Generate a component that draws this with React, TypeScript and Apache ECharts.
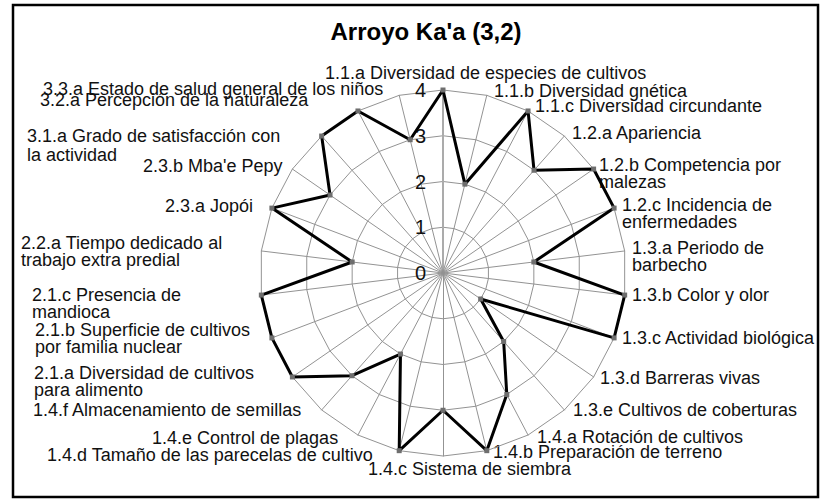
import React, { useEffect, useRef } from "react";
import * as echarts from "echarts";

const TITLE = "Arroyo Ka'a (3,2)";

// Indicators, clockwise from the top
const indicatorNames: string[] = [
  "1.1.a Diversidad de especies de cultivos",
  "1.1.b Diversidad gnética",
  "1.1.c Diversidad circundante",
  "1.2.a Apariencia",
  "1.2.b Competencia por\nmalezas",
  "1.2.c Incidencia de\nenfermedades",
  "1.3.a Periodo de\nbarbecho",
  "1.3.b Color y olor",
  "1.3.c Actividad biológica",
  "1.3.d Barreras vivas",
  "1.3.e Cultivos de coberturas",
  "1.4.a Rotación de cultivos",
  "1.4.b Preparación de terreno",
  "1.4.c Sistema de siembra",
  "1.4.d Tamaño de las parecelas de cultivo",
  "1.4.e Control de plagas",
  "1.4.f Almacenamiento de semillas",
  "2.1.a Diversidad de cultivos\npara alimento",
  "2.1.b Superficie de cultivos\npor familia nuclear",
  "2.1.c Presencia de\nmandioca",
  "2.2.a Tiempo dedicado al\ntrabajo extra predial",
  "2.3.a Jopói",
  "2.3.b Mba'e Pepy",
  "3.1.a Grado de satisfacción con\nla actividad",
  "3.2.a Percepción de la naturaleza",
  "3.3.a Estado de salud general de los niños",
];

const scores: number[] = [
  4, 2, 4, 3, 4, 4, 2, 4, 4, 1, 2, 3, 4, 3, 4, 2, 3, 4, 4, 4, 2, 4, 3, 4, 4, 3,
];

const axisMin = 0;
const axisMax = 4;
const axisSplits = 4;

// Layout of the category labels: [left x, centre y of first line, line height]
const labelLayout: [number, number, number][] = [
  [325, 73, 17],
  [494, 91, 17],
  [535, 106, 17],
  [572, 133, 17],
  [599, 165, 17],
  [622, 205, 17],
  [632, 248, 17],
  [632, 295, 17],
  [622, 338, 17],
  [600, 378, 17],
  [573, 410, 17],
  [537, 437, 17],
  [493, 452, 17],
  [368, 469, 17],
  [47, 455, 17],
  [152, 438, 17],
  [33, 410, 17],
  [34, 373, 17],
  [35, 330, 17],
  [32, 295, 17],
  [21, 243, 17],
  [165, 206, 17],
  [143, 166, 17],
  [27, 136, 18.5],
  [40, 100, 17],
  [43, 89, 17],
];

const FONT = "'Liberation Sans', Arial, Helvetica, sans-serif";

export default function App() {
  const ref = useRef<HTMLDivElement>(null);

  useEffect(() => {
    if (!ref.current) return;
    const chart = echarts.init(ref.current, undefined, { renderer: "svg" });

    // ECharts lays radar indicators counter-clockwise: reverse all but the first
    const order = [0, ...indicatorNames.map((_, i) => i).slice(1).reverse()];

    const indicator = order.map((i, k) => {
      const base: any = { name: indicatorNames[i], min: axisMin, max: axisMax };
      if (k === 0) {
        base.axisLabel = {
          show: true,
          fontSize: 20,
          color: "#111",
          fontFamily: FONT,
          margin: 17,
          padding: [6, 0, 0, 0],
        };
        base.axisLine = { lineStyle: { color: "#ababab", width: 2 } };
      }
      return base;
    });

    const labelGraphics = indicatorNames.map((name, i) => {
      const [x, cy, lh] = labelLayout[i];
      return {
        type: "text",
        x,
        y: cy - lh / 2,
        silent: true,
        style: {
          text: name,
          fontSize: 18,
          fontFamily: FONT,
          fill: "#111",
          align: "left",
          verticalAlign: "top",
          lineHeight: lh,
        },
      };
    });

    chart.setOption({
      animation: false,
      backgroundColor: "#fff",
      graphic: [
        {
          type: "rect",
          shape: { x: 13, y: 5, width: 805, height: 492 },
          style: { fill: "none", stroke: "#000", lineWidth: 2.5 },
          silent: true,
        },
        {
          type: "text",
          x: 426,
          y: 31,
          style: {
            text: TITLE,
            fontSize: 24,
            fontWeight: "bold",
            fontFamily: FONT,
            fill: "#000",
            align: "center",
            verticalAlign: "middle",
          },
        },
        ...labelGraphics,
      ],
      radar: {
        center: [443, 273],
        radius: 183,
        startAngle: 90,
        splitNumber: axisSplits,
        shape: "polygon",
        indicator,
        axisName: { show: false },
        axisLine: { lineStyle: { color: "#939393", width: 1 } },
        splitLine: { lineStyle: { color: "#939393", width: 1 } },
        splitArea: { show: false },
        axisTick: { show: false },
      },
      series: [
        {
          type: "radar",
          symbol: "rect",
          symbolSize: 5,
          itemStyle: { color: "#6e6e6e" },
          lineStyle: { color: "#000", width: 3 },
          data: [{ value: order.map((i) => scores[i]), name: TITLE }],
        },
      ],
    });

    return () => chart.dispose();
  }, []);

  return (
    <div
      ref={ref}
      style={{ position: "fixed", left: 0, top: 0, width: 824, height: 502 }}
    />
  );
}
